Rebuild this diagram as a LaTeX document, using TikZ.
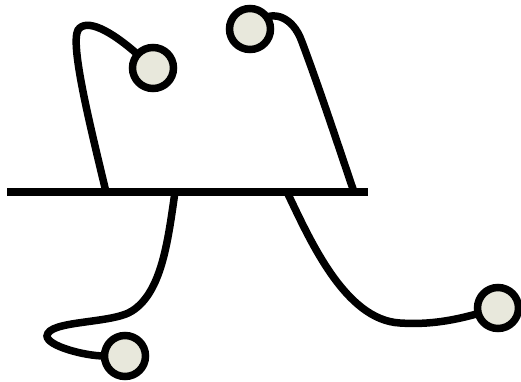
\documentclass[tikz,border=0pt]{standalone}
\begin{document}
\begin{tikzpicture}[x=1pt,y=-1pt,
  wire/.style={line width=7.5pt,line cap=round},
  slot/.style={circle,minimum size=41pt,inner sep=0pt},
  bead/.style={slot,draw,line width=7.5pt,fill=beadfill},
  base/.style={line width=7.5pt}]
\definecolor{beadfill}{HTML}{E8E8DC}
\useasboundingbox (0,0) rectangle (521,382);
% base line
\coordinate (L) at (7,192);
\coordinate (R) at (368,192);
\draw[base] (L) -- (R);
% attachment points on base line
\coordinate (p1) at (106,192);
\coordinate (p2) at (354,192);
\coordinate (p3) at (175,192);
\coordinate (p4) at (287,192);
% bead positions
\node[slot] (A) at (153,68) {};
\node[slot] (B) at (250,29) {};
\node[slot] (C) at (125,356) {};
\node[slot] (D) at (498,308) {};
% wires
\draw[wire] (p1) .. controls (90,125) and (70,45) .. (78,30)
  .. controls (86,18) and (110,30) .. (A);
\draw[wire] (B) .. controls (272,14) and (292,14) .. (302,42)
  .. controls (320,90) and (338,145) .. (p2);
\draw[wire] (p3) .. controls (168,240) and (162,292) .. (132,311)
  .. controls (112,324) and (48,320) .. (47,336)
  .. controls (47,346) and (85,356) .. (C);
\draw[wire] (p4) .. controls (310,240) and (345,320) .. (400,323)
  .. controls (430,325) and (455,320) .. (D);
% beads on top
\node[bead] at (A) {};
\node[bead] at (B) {};
\node[bead] at (C) {};
\node[bead] at (D) {};
\end{tikzpicture}
\end{document}
